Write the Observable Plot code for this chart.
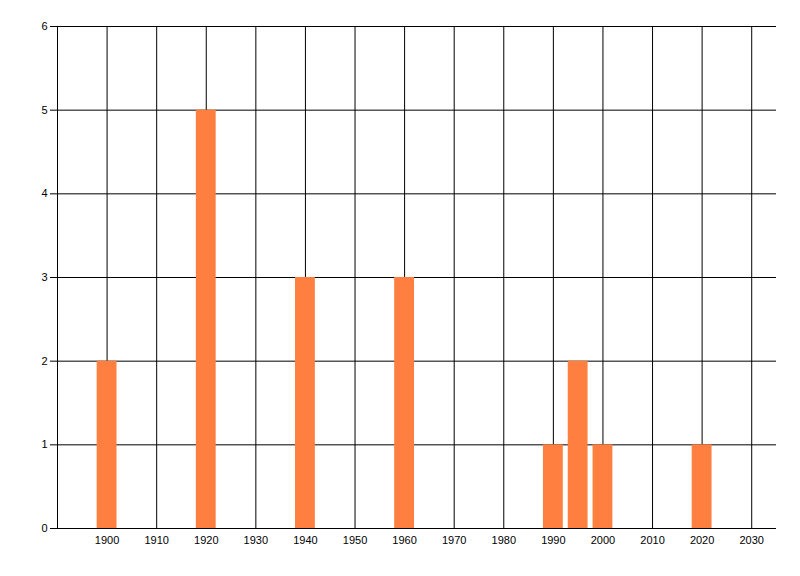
<!DOCTYPE html>
<html>
<head>
<meta charset="utf-8">
<script src="https://cdn.jsdelivr.net/npm/d3@7"></script>
<script src="https://cdn.jsdelivr.net/npm/@observablehq/plot@0.6"></script>
<style>
  body { margin: 0; background: #fff; }
  #chart svg { display: block; }
</style>
</head>
<body>
<div id="chart"></div>
<script>
// values
const years = [1900, 1920, 1940, 1960, 1990, 1995, 2000, 2020]
const counts = [2, 5, 3, 3, 1, 2, 1, 1]
const xTicks = [1900, 1910, 1920, 1930, 1940, 1950, 1960, 1970, 1980, 1990, 2000, 2010, 2020, 2030]
const yTicks = [0, 1, 2, 3, 4, 5, 6]

const data = years.map((year, i) => ({year, count: counts[i]}))
const halfWidth = 2 // bars are about 4 years wide

let chart = Plot.plot({
  width: 800,
  height: 576,
  marginLeft: 57,
  marginRight: 24,
  marginTop: 26,
  marginBottom: 48,
  style: {fontFamily: '"Liberation Sans", Arial, sans-serif', fontSize: '11px', color: '#000', background: '#fff'},
  x: {domain: [1890, 2035]},
  y: {domain: [0, 6]},
  marks: [
    Plot.gridX(xTicks, {stroke: '#000', strokeOpacity: 1}),
    Plot.gridY(yTicks.filter(d => d > 0), {stroke: '#000', strokeOpacity: 1}),
    Plot.rectY(data, {
      x1: d => d.year - halfWidth,
      x2: d => d.year + halfWidth,
      y: 'count',
      fill: '#ff7f40'
    }),
    Plot.ruleX([1890], {stroke: '#000'}),
    Plot.ruleY([0], {stroke: '#000'}),
    Plot.axisY(yTicks, {tickSize: 7, tickPadding: 3, label: null, stroke: '#000', tickFormat: d => String(d)}),
    Plot.axisX(xTicks, {tickSize: 0, tickPadding: 8, label: null, tickFormat: d => String(d)})
  ]
})
d3.select('#chart').append(() => chart)
</script>
</body>
</html>
